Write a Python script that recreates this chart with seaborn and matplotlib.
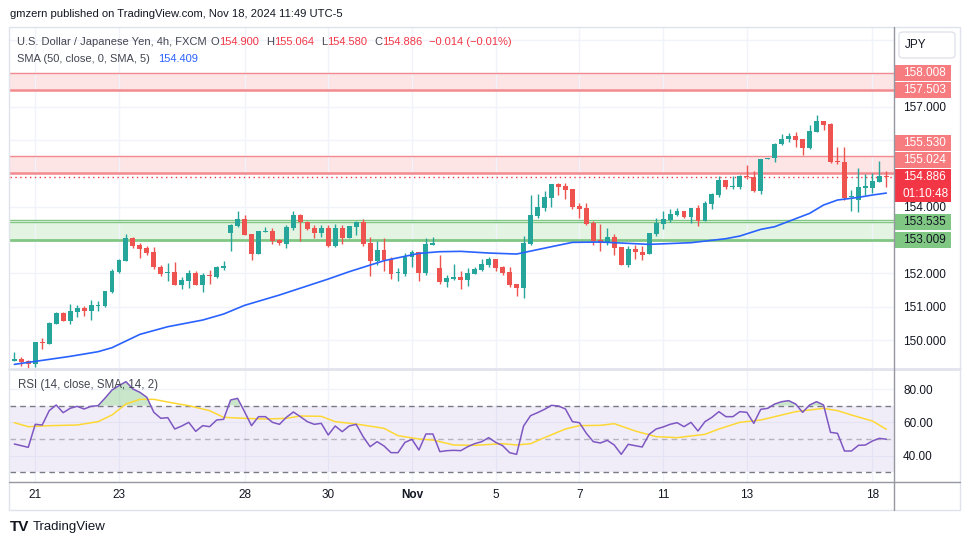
import matplotlib.pyplot as plt
from matplotlib.patches import Rectangle, FancyBboxPatch
from matplotlib.lines import Line2D
import numpy as np
import seaborn as sns

# USD/JPY 4h candles, oldest first
opens = [149.38, 149.43, 149.37, 149.29, 149.94, 149.89, 150.49, 150.81, 150.57, 150.85,
         150.96, 150.88, 151.03, 151.03, 151.45, 152.04, 152.38, 153.05, 152.84, 152.76,
         152.64, 152.20, 152.00, 152.04, 151.66, 151.78, 152.01, 151.66, 151.95, 151.89,
         152.17, 153.22, 153.42, 153.63, 153.18, 152.59, 153.23, 153.27, 153.00, 152.89,
         153.37, 153.75, 153.53, 153.36, 153.22, 153.36, 152.83, 153.36, 153.07, 153.40,
         153.53, 152.91, 152.37, 152.70, 152.43, 152.00, 151.98, 152.48, 152.64, 152.02,
         152.86, 152.16, 151.75, 151.83, 151.89, 151.80, 151.99, 152.11, 152.25, 152.43,
         152.19, 152.04, 151.68, 151.57, 152.89, 153.73, 153.97, 154.27, 154.68, 154.62,
         154.53, 154.02, 153.96, 153.52, 153.00, 152.92, 153.09, 152.79, 152.26, 152.72,
         152.64, 152.59, 153.19, 153.49, 153.60, 153.76, 153.87, 153.70, 153.95, 153.58,
         154.09, 154.36, 154.80, 154.60, 154.60, 154.92, 154.90, 154.47, 155.43, 155.45,
         155.87, 156.02, 156.12, 156.03, 155.75, 156.25, 156.58, 156.49, 155.37, 155.34,
         154.28, 154.20, 154.57, 154.57, 154.74, 154.900]
highs = [149.64, 149.48, 149.40, 149.94, 150.07, 150.54, 150.84, 150.83, 151.08, 151.06,
         151.03, 151.20, 151.16, 151.47, 152.14, 152.44, 153.18, 153.10, 152.90, 152.81,
         152.78, 152.25, 152.31, 152.34, 151.89, 152.09, 152.06, 152.01, 152.10, 152.23,
         152.37, 153.47, 153.87, 153.75, 153.18, 153.27, 153.39, 153.35, 153.03, 153.45,
         153.87, 153.79, 153.58, 153.46, 153.45, 153.45, 153.47, 153.44, 153.42, 153.57,
         153.63, 153.09, 152.97, 153.06, 152.50, 152.16, 152.60, 152.70, 152.64, 153.06,
         153.10, 152.55, 151.95, 152.28, 152.08, 152.15, 152.19, 152.43, 152.50, 152.43,
         152.22, 152.20, 151.68, 153.12, 154.35, 154.38, 154.47, 154.68, 154.72, 154.72,
         154.53, 154.11, 154.11, 153.57, 153.48, 153.35, 153.18, 152.79, 152.83, 152.84,
         152.82, 153.20, 153.65, 153.86, 153.92, 153.96, 153.87, 153.95, 154.05, 154.18,
         154.42, 154.92, 154.80, 154.92, 154.96, 155.25, 155.07, 155.43, 155.47, 155.90,
         156.17, 156.20, 156.25, 156.03, 156.45, 156.75, 156.58, 156.52, 155.80, 155.79,
         154.49, 155.17, 154.98, 155.00, 155.37, 155.064]
lows = [149.38, 149.23, 149.13, 149.20, 149.73, 149.89, 150.49, 150.57, 150.48, 150.68,
        150.73, 150.61, 150.88, 150.98, 151.42, 152.02, 152.38, 152.77, 152.47, 152.54,
        152.13, 151.93, 151.76, 151.66, 151.54, 151.56, 151.64, 151.45, 151.69, 151.86,
        152.11, 152.68, 153.40, 153.16, 152.40, 152.59, 153.23, 152.88, 152.86, 152.77,
        153.30, 152.98, 153.30, 153.07, 153.10, 152.80, 152.80, 152.87, 153.07, 153.16,
        152.83, 151.93, 152.26, 152.07, 151.83, 151.78, 151.93, 152.20, 151.78, 151.96,
        152.86, 151.68, 151.60, 151.80, 151.53, 151.62, 151.99, 152.06, 152.18, 152.07,
        151.95, 151.59, 151.32, 151.26, 152.86, 153.67, 153.88, 154.00, 154.35, 154.23,
        153.94, 153.65, 153.44, 152.85, 152.68, 152.86, 152.55, 152.26, 152.20, 152.44,
        152.40, 152.59, 153.13, 153.34, 153.55, 153.73, 153.66, 153.50, 153.43, 153.58,
        153.94, 154.30, 154.52, 154.53, 154.54, 154.82, 154.45, 154.37, 155.43, 155.35,
        155.84, 155.95, 155.79, 155.55, 155.72, 156.23, 156.30, 155.30, 155.28, 154.20,
        153.87, 153.85, 154.35, 154.40, 154.74, 154.580]
closes = [149.42, 149.35, 149.29, 149.94, 149.92, 150.51, 150.81, 150.58, 150.87, 150.95,
          150.88, 151.05, 151.05, 151.47, 152.07, 152.40, 153.05, 152.83, 152.74, 152.62,
          152.20, 151.99, 152.04, 151.66, 151.80, 152.01, 151.66, 151.95, 151.91, 152.19,
          152.22, 153.45, 153.63, 153.16, 152.59, 153.27, 153.27, 152.98, 152.90, 153.39,
          153.75, 153.53, 153.33, 153.22, 153.36, 152.83, 153.36, 153.07, 153.42, 153.53,
          152.89, 152.37, 152.70, 152.40, 151.98, 152.02, 152.50, 152.64, 152.02, 152.89,
          152.91, 151.75, 151.85, 151.89, 151.80, 152.01, 152.13, 152.28, 152.43, 152.16,
          152.01, 151.65, 151.57, 152.90, 153.75, 153.99, 154.29, 154.68, 154.60, 154.50,
          153.99, 153.93, 153.48, 152.97, 152.92, 153.09, 152.76, 152.26, 152.72, 152.63,
          152.56, 153.20, 153.51, 153.63, 153.78, 153.87, 153.70, 153.95, 153.58, 154.12,
          154.38, 154.80, 154.58, 154.62, 154.92, 154.88, 154.48, 155.43, 155.47, 155.88,
          156.02, 156.13, 156.01, 155.75, 156.27, 156.58, 156.46, 155.35, 155.33, 154.27,
          154.31, 154.59, 154.61, 154.77, 154.93, 154.886]

# SMA(50) line, read at candle positions
sma_idx = [0, 3, 8, 12, 14, 15, 18, 22, 27, 30, 33, 38, 45, 48, 53, 58, 61, 64, 68, 72,
           77, 80, 84, 91, 97, 102, 104, 107, 109, 114, 116, 118, 121, 123, 125]
sma_val = [149.27, 149.36, 149.51, 149.65, 149.77, 149.87, 150.17, 150.40, 150.60, 150.78,
           151.04, 151.35, 151.83, 152.05, 152.38, 152.60, 152.65, 152.66, 152.61, 152.58,
           152.80, 152.93, 152.94, 152.87, 152.92, 153.04, 153.12, 153.32, 153.40, 153.80,
           154.05, 154.20, 154.28, 154.35, 154.409]

# RSI(14), one value per candle
rsi = [47.0, 46.0, 45.0, 58.8, 58.4, 67.0, 70.4, 65.8, 68.4, 69.6,
       68.0, 69.6, 70.0, 74.5, 79.4, 82.0, 84.4, 80.0, 78.0, 75.0,
       66.0, 62.4, 62.8, 56.0, 57.8, 60.0, 54.6, 58.0, 57.4, 61.4,
       61.8, 73.4, 74.4, 66.4, 58.0, 63.4, 63.4, 60.0, 58.8, 63.0,
       66.2, 63.4, 60.4, 58.8, 59.4, 52.4, 57.8, 54.4, 57.8, 58.8,
       51.4, 45.4, 48.4, 45.8, 41.8, 41.8, 48.0, 49.8, 43.4, 53.0,
       53.0, 42.4, 43.0, 43.2, 43.0, 45.4, 47.2, 48.4, 50.8, 48.0,
       46.0, 41.8, 40.8, 57.8, 64.0, 65.8, 67.8, 70.2, 69.8, 68.0,
       60.4, 59.8, 53.4, 48.4, 47.6, 49.2, 46.4, 40.8, 46.8, 46.0,
       45.2, 52.8, 56.0, 57.2, 58.8, 59.8, 57.4, 60.0, 54.8, 60.4,
       63.0, 66.4, 63.4, 63.4, 66.4, 66.0, 59.4, 67.8, 68.4, 71.0,
       72.4, 73.0, 71.0, 66.0, 70.4, 72.4, 70.4, 54.0, 53.4, 42.8,
       42.8, 46.2, 46.4, 48.8, 50.4, 49.85]

# RSI smoothing line (SMA 14)
rsi_sma_idx = [0, 2, 5, 9, 12, 14, 16, 18, 20, 23, 25, 28, 30, 33, 36, 39, 41, 44, 46, 49,
               53, 55, 58, 60, 63, 66, 70, 72, 74, 76, 79, 81, 84, 86, 89, 92, 95, 99, 101,
               104, 107, 109, 112, 116, 118, 120, 123, 125]
rsi_sma_val = [59.8, 57.4, 58.0, 58.4, 60.4, 64.4, 71.0, 73.8, 73.8, 71.4, 70.0, 67.0, 63.0,
               62.4, 62.0, 62.4, 63.8, 63.6, 60.4, 59.0, 56.4, 52.0, 50.0, 49.4, 46.4, 46.2,
               47.2, 46.4, 47.2, 50.8, 56.0, 58.0, 58.2, 59.2, 54.8, 51.4, 50.8, 52.8, 56.0,
               60.0, 61.4, 63.4, 66.4, 68.4, 67.0, 64.4, 60.8, 55.83]

date_pos = [3, 15, 33, 45, 57, 69, 81, 93, 105, 123]
date_labels = ["21", "23", "28", "30", "Nov", "5", "7", "11", "13", "18"]

red_zones = [(157.503, 158.008), (155.024, 155.530)]
green_zone = (153.009, 153.535)
last_price = 154.886
sma_last = 154.409
rsi_last = 49.85
rsi_sma_last = 55.83

W, H = 970, 545
UP, DOWN = "#26a69a", "#ef5350"
GRID = "#f0f3fa"
TXT = "#131722"


def fx(x):
    return x / W


def fy(y):
    return 1 - y / H


sns.set_theme(style="white")
plt.rcParams["font.family"] = ["Liberation Sans", "DejaVu Sans"]

fig = plt.figure(figsize=(W / 100, H / 100), dpi=100)
ax = fig.add_axes([fx(10), fy(369), fx(894) - fx(10), (369 - 28) / H])
ax_rsi = fig.add_axes([fx(10), fy(482), fx(894) - fx(10), (482 - 369) / H], sharex=ax)

idx = np.arange(len(opens))
o, h, l, c = map(np.array, (opens, highs, lows, closes))
cols = np.where(c >= o, UP, DOWN)

ax.set_xlim(-0.62, 126.1)
ax.set_ylim(149.131, 159.361)

# zones
for lo, hi in red_zones:
    ax.axhspan(lo, hi, color="#fde4e5", lw=0, zorder=0.5)
    ax.axhline(hi, color="#f28b8f", lw=1, zorder=1)
    ax.axhline(lo, color="#f28b8f", lw=1.8, zorder=1)
ax.axhspan(*green_zone, color="#e4f4e3", lw=0, zorder=0.5)
ax.axhline(green_zone[1], color="#81c784", lw=1, zorder=1)
ax.axhline(green_zone[1] + 0.06, color="#81c784", lw=1, zorder=1)
ax.axhline(green_zone[0], color="#81c784", lw=2, zorder=1)
ax.axhline(last_price, color="#f23645", lw=1, ls=(0, (1, 2.5)), zorder=1)

# candles
ax.vlines(idx, l, h, colors=cols, lw=1, zorder=2)
body = np.maximum(np.abs(c - o), 0.03)
ax.bar(idx, body, bottom=np.minimum(o, c), width=0.7, color=cols, lw=0, zorder=3)

sns.lineplot(x=sma_idx, y=sma_val, ax=ax, color="#2962ff", lw=1.2, legend=False, zorder=4)

# RSI pane
ax_rsi.set_ylim(24.2, 92.0)
ax_rsi.axhspan(30, 70, color="#7e57c2", alpha=0.1, lw=0)
for lvl, a in [(70, 1), (30, 1), (50, 0.5)]:
    ax_rsi.axhline(lvl, color="#787b86", lw=1, ls=(0, (4, 3)), alpha=a)
r = np.array(rsi)
ax_rsi.fill_between(idx, 70, r, where=r > 70, interpolate=True, color="#4caf50", alpha=0.3, lw=0)
sns.lineplot(x=rsi_sma_idx, y=rsi_sma_val, ax=ax_rsi, color="#fdd835", lw=1.1, legend=False)
sns.lineplot(x=idx, y=rsi, ax=ax_rsi, color="#7e57c2", lw=1.1, legend=False)

# axes styling
for a in (ax, ax_rsi):
    for s in a.spines.values():
        s.set_visible(False)
    a.set_xlabel("")
    a.set_ylabel("")
    a.grid(True, color=GRID, lw=1)
    a.set_axisbelow(True)
    a.yaxis.tick_right()
    a.tick_params(length=0, labelsize=8.5, labelcolor=TXT)
    a.tick_params(axis="y", pad=6.5)

ax.set_xticks(date_pos)
ax.tick_params(axis="x", labelbottom=False)
ticks = list(range(150, 160))
ax.set_yticks(ticks)
ax.set_yticklabels([f"{t:.3f}" if t in (150, 151, 152, 154, 157) else "" for t in ticks])

ax_rsi.set_yticks([40, 60, 80])
ax_rsi.set_yticklabels(["40.00", "60.00", "80.00"])
ax_rsi.set_xticks(date_pos)
ax_rsi.set_xticklabels(date_labels)
ax_rsi.tick_params(axis="x", pad=5)
ax_rsi.get_xticklabels()[4].set_fontweight("bold")

# frame and separators
fig.add_artist(Rectangle((fx(9), fy(510)), fx(960) - fx(9), (510 - 27) / H,
                         fill=False, ec="#e0e3eb", lw=1))
fig.add_artist(Line2D([fx(9), fx(960)], [fy(369)] * 2, color="#e0e3eb", lw=2))
fig.add_artist(Line2D([fx(9), fx(960)], [fy(482)] * 2, color="#9598a1", lw=1))
fig.add_artist(Line2D([fx(894)] * 2, [fy(27), fy(510)], color="#9598a1", lw=1))

# price tags on the scale
fig.canvas.draw()


def tag(price, lines, fc, tc, dy=0):
    yd = ax.transData.transform((0, price))[1] + dy
    top = yd + 8.2
    hgt = 16.4 * len(lines)
    fig.add_artist(Rectangle((fx(895), (top - hgt) / H), fx(951) - fx(895), hgt / H,
                             fc=fc, ec="none"))
    for k, s in enumerate(lines):
        fig.text(fx(903), (top - 8.2 - 16.4 * k) / H, s, color=tc, fontsize=8.5,
                 va="center", ha="left")


tag(red_zones[0][1], ["158.008"], "#f77c80", "white")
tag(red_zones[0][0], ["157.503"], "#f77c80", "white")
tag(red_zones[1][1], ["155.530"], "#f77c80", "white", dy=12.5)
tag(red_zones[1][0], ["155.024"], "#f77c80", "white", dy=12.5)
tag(last_price, ["154.886", "01:10:48"], "#f23645", "white")
tag(green_zone[1], ["153.535"], "#81c784", TXT)
tag(green_zone[0], ["153.009"], "#81c784", TXT)

# JPY currency box
fig.add_artist(FancyBboxPatch((fx(899), fy(58)), fx(955) - fx(899), 26 / H,
                              boxstyle="round,pad=0,rounding_size=0.005",
                              fc="white", ec="#e0e3eb", lw=1))
fig.text(fx(916), fy(45), "JPY", color=TXT, fontsize=8.5, ha="center", va="center")


def chain(x, y, parts, size=8.0):
    prev = fig.text(fx(x), fy(y), parts[0][0], color=parts[0][1], fontsize=size,
                    ha="left", va="center")
    for txt, col, gap in parts[1:]:
        prev = ax.annotate(txt, xy=(1, 0.5), xycoords=prev, xytext=(gap, 0),
                           textcoords="offset pixels", color=col, fontsize=size,
                           ha="left", va="center", annotation_clip=False)


GRAY = "#434651"
RED = "#f23645"
fig.text(fx(10), fy(14), "gmzern published on TradingView.com, Nov 18, 2024 11:49 UTC-5",
         color=TXT, fontsize=8.1, ha="left", va="center")
chain(17, 42, [("U.S. Dollar / Japanese Yen, 4h, FXCM", GRAY),
               ("O", GRAY, 4), (f"{opens[-1]:.3f}", RED, 0),
               ("H", GRAY, 7), (f"{highs[-1]:.3f}", RED, 0),
               ("L", GRAY, 7), (f"{lows[-1]:.3f}", RED, 0),
               ("C", GRAY, 7), (f"{closes[-1]:.3f}", RED, 0),
               ("\u22120.014 (\u22120.01%)", RED, 6)])
chain(17, 59, [("SMA (50, close, 0, SMA, 5)", GRAY), (f"{sma_last:.3f}", "#2962ff", 8)])
chain(18, 385, [("RSI (14, close, SMA, 14, 2)", GRAY), (f"{rsi_last:.2f}", "#7e57c2", 8),
                (f"{rsi_sma_last:.2f}", "#fdd835", 8), ("\u2205", GRAY, 8),
                ("\u2205", GRAY, 8)], size=8.3)

# footer logo
fig.text(fx(10), fy(527), "TV", color=TXT, fontsize=11, fontweight="heavy",
         ha="left", va="center")
fig.text(fx(33), fy(527), "TradingView", color=TXT, fontsize=9.5, ha="left", va="center")

fig.savefig("out.png", dpi=100)
